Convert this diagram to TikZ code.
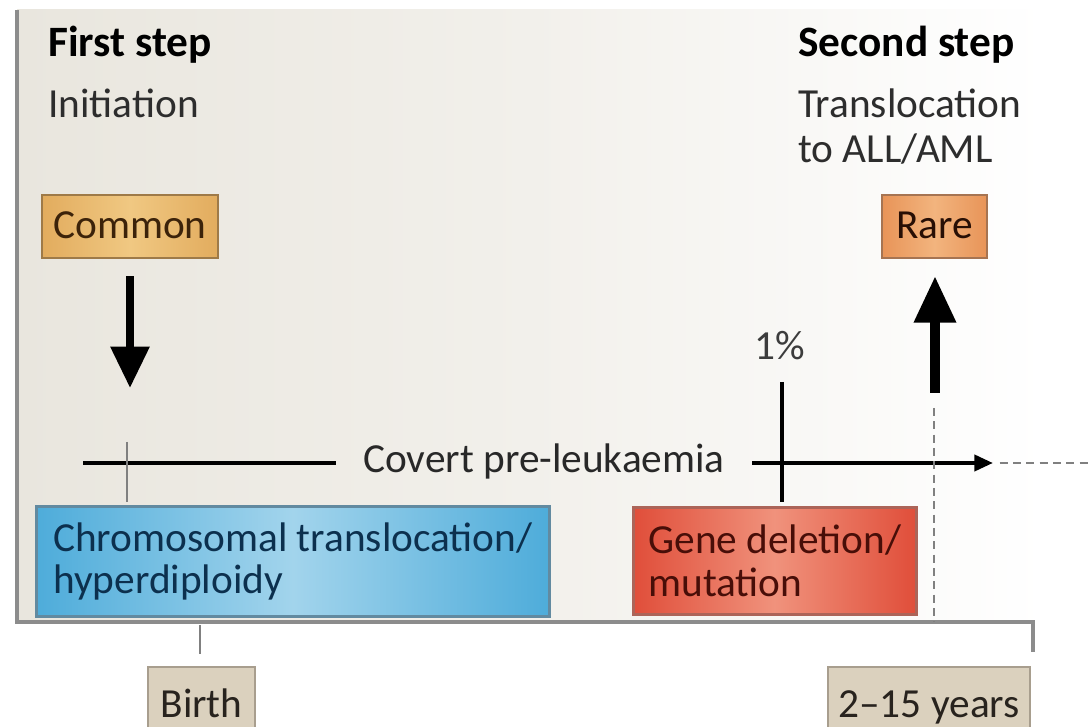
\documentclass[tikz,border=0pt]{standalone}
\usepackage{fontspec}
\setmainfont{Carlito}
\usetikzlibrary{arrows.meta}

\definecolor{panelbg}{RGB}{233,230,222}
\definecolor{panelmid}{RGB}{242,240,235}
\definecolor{framegray}{RGB}{140,140,140}
\definecolor{tickgray}{RGB}{128,128,128}
\definecolor{textgray}{RGB}{45,45,45}
\definecolor{commonfill}{RGB}{226,172,94}
\definecolor{commonmid}{RGB}{240,200,130}
\definecolor{commonedge}{RGB}{158,122,72}
\definecolor{rarefill}{RGB}{232,148,88}
\definecolor{raremid}{RGB}{242,180,126}
\definecolor{rareedge}{RGB}{166,116,82}
\definecolor{bluefill}{RGB}{78,172,218}
\definecolor{bluemid}{RGB}{162,212,236}
\definecolor{blueedge}{RGB}{98,138,160}
\definecolor{bluetext}{RGB}{12,48,78}
\definecolor{redfill}{RGB}{224,78,58}
\definecolor{redmid}{RGB}{240,146,124}
\definecolor{rededge}{RGB}{172,100,88}
\definecolor{redtext}{RGB}{72,14,8}
\definecolor{agefill}{RGB}{219,209,190}
\definecolor{ageedge}{RGB}{168,158,142}

\tikzset{
  titletext/.style={anchor=base west, inner sep=0pt, font=\fontsize{32.5pt}{34pt}\selectfont\bfseries, text=black},
  subtext/.style={anchor=base west, inner sep=0pt, text=textgray, align=left},
  tagbox/.style={draw, line width=1.6pt, inner xsep=0pt, inner ysep=0pt, text height=33pt, text depth=14.25pt, anchor=base},
  eventbox/.style={draw, line width=2pt, anchor=north west, align=left, inner sep=0pt},
  agebox/.style={draw=ageedge, line width=1.5pt, fill=agefill, inner xsep=0pt, inner ysep=0pt, text height=37.5pt, text depth=9pt, anchor=base, text={rgb,255:red,40;green,35;blue,30}},
  timeline/.style={line width=3pt, black},
  tickline/.style={line width=1.5pt, tickgray},
  guideline/.style={line width=1.5pt, tickgray, dash pattern={on 6pt off 4pt}},
  frameline/.style={line width=2.5pt, framegray},
  bigdown/.style={line width=6pt, -{Triangle[length=31pt,width=28pt]}},
  bigup/.style={line width=7.5pt, -{Triangle[length=35pt,width=30pt]}}
}

\begin{document}
\begin{tikzpicture}[x=0.75pt,y=0.75pt,yscale=-1,xscale=1, font=\fontsize{31pt}{32pt}\selectfont]
\useasboundingbox (0,0) rectangle (1090,727);

%Shape: Panel
\fill [left color=panelbg, right color=white, middle color=panelmid] (17,10) rectangle (1045,622);
\draw [frameline] (17,10) -- (17,622) -- (1033,622) -- (1033,652);

% Text Node
\draw (48,57) node [titletext] (firstStep) {First step};
% Text Node
\draw (48,118) node [subtext] (initiation) {Initiation};
% Text Node
\draw (798,57) node [titletext] (secondStep) {Second step};
% Text Node
\draw (798,163) node [subtext] (toLeukaemia) {Translocation\\[2pt]to ALL/AML};

%Shape: Rectangle
\draw (130,239) node [tagbox, draw=commonedge, left color=commonfill, right color=commonfill, middle color=commonmid, minimum width=132pt, text={rgb,255:red,60;green,35;blue,10}] (common) {Common};
%Shape: Rectangle
\draw (934.5,239) node [tagbox, draw=rareedge, left color=rarefill, right color=rarefill, middle color=raremid, minimum width=78.75pt, text={rgb,255:red,40;green,15;blue,5}] (rare) {Rare};

%Shape: Rectangle
\draw (35,505) node [eventbox, draw=blueedge, left color=bluefill, right color=bluefill, middle color=bluemid, minimum width=384.75pt, minimum height=82.5pt, text=bluetext] (chromosomal) {Chromosomal translocation/\\hyperdiploidy};
%Shape: Rectangle
\draw (632,506) node [eventbox, draw=rededge, left color=redfill, right color=redfill, middle color=redmid, minimum width=212.25pt, minimum height=80.25pt, text=redtext] (geneDeletion) {Gene deletion/\\mutation};

% Text Node
\draw (544,473) node [anchor=base, inner xsep=20.5pt, inner ysep=0pt, text={rgb,255:red,40;green,40;blue,40}] (covert) {Covert pre-leukaemia};
% Text Node
\draw (780,360) node [anchor=base, inner sep=0pt, text={rgb,255:red,60;green,60;blue,60}] (onePct) {1\%};

% Age boxes
\draw (201.5,717) node [agebox, minimum width=80.25pt] (birth) {Birth};
\draw (929,717) node [agebox, minimum width=151.5pt] (years) {2–15 years};

% Coordinates
\coordinate (tlStart) at (83,463);
\coordinate (tlEnd) at (993,463);
\coordinate (tlFade) at (1090,463);
\coordinate (downTip) at (130,388);
\coordinate (upBase) at (935,393);
\coordinate (pctLine) at (782,382);
\coordinate (firstTick) at (127,442);
\coordinate (birthTick) at (200,625);
\coordinate (dashTop) at (934,408);
\coordinate (dashBottom) at (934,622);

%Straight Lines
\draw [timeline] (tlStart) -- (tlStart -| covert.west);
\draw [timeline, -{Triangle[length=14pt,width=12pt]}] (covert.east |- tlEnd) -- (tlEnd);
\draw [guideline, shorten <=5pt] (tlEnd) -- (tlFade);
%Straight Lines
\draw [tickline, shorten >=2pt] (firstTick) -- (firstTick |- chromosomal.north);
\draw [tickline, shorten >=9pt] (birthTick) -- (birthTick |- birth.north);
\draw [guideline] (dashTop) -- (dashBottom);
%Straight Lines
\draw [timeline, shorten >=3pt] (pctLine) -- (pctLine |- geneDeletion.north);
%Arrows
\draw [bigdown, shorten <=12.75pt] (common.south -| downTip) -- (downTip);
\draw [bigup, shorten >=12.75pt] (upBase) -- (upBase |- rare.south);

\end{tikzpicture}
\end{document}
